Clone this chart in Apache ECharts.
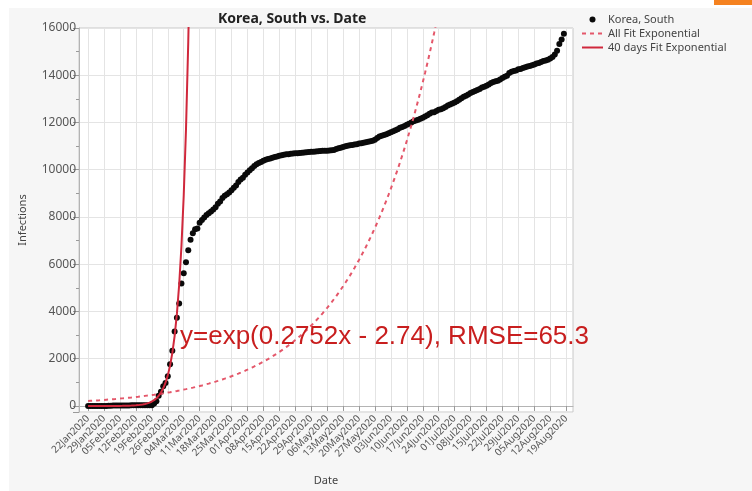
<!DOCTYPE html>
<html>
<head>
<meta charset="utf-8">
<title>Korea, South vs. Date</title>
<script src="https://cdn.jsdelivr.net/npm/echarts@6/dist/echarts.min.js"></script>
<style>
  html, body { margin: 0; padding: 0; background: #f6f6f6; }
  #chart { width: 752px; height: 491px; }
</style>
</head>
<body>
<div id="chart"></div>
<script>
// Cumulative confirmed infections, South Korea, one value per day from 22Jan2020
const firstDay = '22Jan2020';
const korea = [
  1, 1, 2, 2, 3, 4, 4, 4, 4, 11,
  12, 15, 15, 16, 19, 23, 24, 24, 25, 27,
  28, 28, 28, 28, 28, 29, 30, 31, 31, 104,
  204, 433, 602, 833, 977, 1261, 1766, 2337, 3150, 3736,
  4335, 5186, 5621, 6088, 6593, 7041, 7314, 7478, 7513, 7755,
  7869, 7979, 8086, 8162, 8236, 8320, 8413, 8565, 8652, 8799,
  8897, 8961, 9037, 9137, 9241, 9332, 9478, 9583, 9661, 9786,
  9887, 9976, 10062, 10156, 10237, 10284, 10331, 10384, 10423, 10450,
  10480, 10512, 10537, 10564, 10591, 10613, 10635, 10653, 10661, 10674,
  10683, 10694, 10702, 10708, 10718, 10728, 10738, 10752, 10761, 10765,
  10774, 10780, 10793, 10801, 10804, 10806, 10810, 10822, 10840, 10874,
  10909, 10936, 10962, 10991, 11018, 11037, 11050, 11065, 11078, 11110,
  11122, 11142, 11165, 11190, 11206, 11225, 11265, 11344, 11402, 11441,
  11468, 11503, 11541, 11590, 11629, 11668, 11719, 11776, 11814, 11852,
  11902, 11947, 12003, 12051, 12085, 12121, 12155, 12198, 12257, 12306,
  12373, 12421, 12438, 12484, 12535, 12563, 12602, 12653, 12715, 12757,
  12800, 12850, 12904, 12967, 13030, 13091, 13137, 13181, 13244, 13293,
  13338, 13373, 13417, 13479, 13512, 13551, 13612, 13672, 13711, 13745,
  13771, 13816, 13879, 13938, 13979, 14092, 14150, 14175, 14203, 14251,
  14269, 14305, 14336, 14366, 14389, 14423, 14456, 14499, 14519, 14562,
  14598, 14626, 14660, 14714, 14770, 14873, 15039, 15318, 15515, 15761
];

// Weekly date ticks on the x axis
const weekLabels = [
  '22Jan2020', '29Jan2020', '05Feb2020', '12Feb2020', '19Feb2020', '26Feb2020',
  '04Mar2020', '11Mar2020', '18Mar2020', '25Mar2020', '01Apr2020', '08Apr2020',
  '15Apr2020', '22Apr2020', '29Apr2020', '06May2020', '13May2020', '20May2020',
  '27May2020', '03Jun2020', '10Jun2020', '17Jun2020', '24Jun2020', '01Jul2020',
  '08Jul2020', '15Jul2020', '22Jul2020', '29Jul2020', '05Aug2020', '12Aug2020',
  '19Aug2020'
];

// Exponential fits: y = exp(slope * x + intercept), x = day number starting at 1
const fit40Days = { slope: 0.2752, intercept: -2.74, rmse: 65.3 };
const fitAll = { slope: 0.02842, intercept: 5.319 };

// Daily category axis spanning 18Jan2020 .. 23Aug2020
const monthNames = ['Jan','Feb','Mar','Apr','May','Jun','Jul','Aug','Sep','Oct','Nov','Dec'];
const axisStart = Date.UTC(2020, 0, 18);
const axisDays = 218;
const categories = [];
for (let i = 0; i < axisDays; i++) {
  const d = new Date(axisStart + i * 86400000);
  categories.push(String(d.getUTCDate()).padStart(2, '0') + monthNames[d.getUTCMonth()] + d.getUTCFullYear());
}
const offset = categories.indexOf(firstDay);

const pointData = korea.map((v, i) => [categories[offset + i], v]);

function fitCurve(fit, ceiling) {
  const out = [];
  for (let i = offset; i < categories.length; i++) {
    const x = i - offset + 1;
    const y = Math.exp(fit.slope * x + fit.intercept);
    out.push([categories[i], y]);
    if (y > ceiling) break;
  }
  return out;
}

const yMax = 16000;
const isWeekTick = (idx, value) => weekLabels.indexOf(value) !== -1;
const font = 'Noto Sans';

const chart = echarts.init(document.getElementById('chart'), null, { renderer: 'canvas' });
chart.setOption({
  animation: false,
  backgroundColor: 'transparent',
  graphic: [
    { type: 'rect', z: -10, shape: { x: 0, y: 0, width: 752, height: 8 }, style: { fill: '#ffffff' } },
    { type: 'rect', z: -10, shape: { x: 0, y: 0, width: 9, height: 491 }, style: { fill: '#ffffff' } },
    { type: 'rect', z: -9, shape: { x: 714, y: 0, width: 38, height: 5 }, style: { fill: '#f58220' } },
    {
      type: 'text', z: 100,
      style: {
        x: 180, y: 337,
        text: 'y=exp(' + fit40Days.slope + 'x - ' + Math.abs(fit40Days.intercept).toFixed(2) + '), RMSE=' + fit40Days.rmse,
        font: '26px "Liberation Sans", Arial, sans-serif',
        fill: '#c81e1e',
        verticalAlign: 'middle'
      }
    }
  ],
  title: {
    text: 'Korea, South vs. Date',
    left: 213, top: 7,
    textStyle: { fontFamily: font, fontSize: 14, fontWeight: 'bold', color: '#222' }
  },
  legend: {
    orient: 'vertical',
    left: 576, top: 9,
    itemWidth: 21, itemHeight: 6, itemGap: 3,
    textStyle: { fontFamily: font, fontSize: 11, color: '#444' },
    data: [
      { name: 'Korea, South' },
      { name: 'All Fit Exponential', itemStyle: { opacity: 0 } },
      { name: '40 days Fit Exponential', itemStyle: { opacity: 0 } }
    ]
  },
  grid: {
    left: 79, right: 179, top: 28, bottom: 78,
    show: true, backgroundColor: '#ffffff', borderColor: '#c8c8c8', borderWidth: 1
  },
  xAxis: {
    type: 'category',
    data: categories,
    boundaryGap: false,
    name: 'Date',
    nameLocation: 'middle',
    nameGap: 63,
    nameTextStyle: { fontFamily: font, fontSize: 11, color: '#444' },
    axisLine: { lineStyle: { color: '#b4b4b4' } },
    axisTick: { interval: isWeekTick, length: 5, lineStyle: { color: '#9a9a9a' } },
    axisLabel: { interval: isWeekTick, rotate: 45, fontFamily: font, fontSize: 10, color: '#555', margin: 5 },
    splitLine: { show: true, interval: isWeekTick, lineStyle: { color: '#e4e4e4' } }
  },
  yAxis: {
    type: 'value',
    min: -255, max: yMax,
    splitNumber: 8,
    name: 'Infections',
    nameLocation: 'middle',
    nameGap: 51,
    nameTextStyle: { fontFamily: font, fontSize: 11, color: '#444' },
    axisLine: { show: true, lineStyle: { color: '#b4b4b4' } },
    axisTick: { show: true, length: 6, lineStyle: { color: '#9a9a9a' } },
    minorTick: { show: true, splitNumber: 2, length: 3, lineStyle: { color: '#9a9a9a' } },
    axisLabel: {
      showMinLabel: false, fontFamily: font, fontSize: 12, color: '#555', margin: 3,
      formatter: (v) => String(v)
    },
    splitLine: { show: true, lineStyle: { color: '#e4e4e4' } }
  },
  series: [
    {
      name: 'Korea, South',
      type: 'scatter',
      data: pointData,
      symbol: 'circle',
      symbolSize: 6,
      itemStyle: { color: '#0a0a0a', opacity: 1 }
    },
    {
      name: 'All Fit Exponential',
      type: 'line',
      data: fitCurve(fitAll, yMax),
      symbol: 'none',
      clip: true,
      lineStyle: { color: '#e4576a', width: 2, type: [4, 4] },
      itemStyle: { color: '#e4576a' }
    },
    {
      name: '40 days Fit Exponential',
      type: 'line',
      data: fitCurve(fit40Days, yMax),
      symbol: 'none',
      clip: true,
      lineStyle: { color: '#d0283c', width: 2 },
      itemStyle: { color: '#d0283c' }
    }
  ]
});
</script>
</body>
</html>
